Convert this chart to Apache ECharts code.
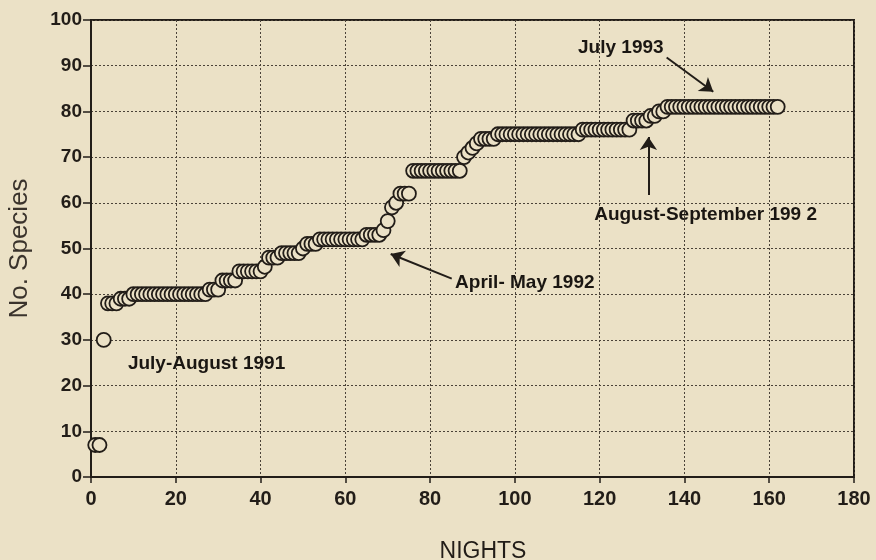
<!DOCTYPE html>
<html>
<head>
<meta charset="utf-8">
<script src="https://cdn.jsdelivr.net/npm/echarts@6/dist/echarts.min.js"></script>
<style>
  html, body { margin: 0; padding: 0; background: #ebe1c6; }
  #chart { width: 876px; height: 560px; }
</style>
</head>
<body>
<div id="chart"></div>
<script>
// cumulative no. of species, one value per night (night 1 .. 162)
const species = [
  7, 7, 30, 38, 38, 38, 39, 39, 39, 40,
  40, 40, 40, 40, 40, 40, 40, 40, 40, 40,
  40, 40, 40, 40, 40, 40, 40, 41, 41, 41,
  43, 43, 43, 43, 45, 45, 45, 45, 45, 45,
  46, 48, 48, 48, 49, 49, 49, 49, 49, 50,
  51, 51, 51, 52, 52, 52, 52, 52, 52, 52,
  52, 52, 52, 52, 53, 53, 53, 53, 54, 56,
  59, 60, 62, 62, 62, 67, 67, 67, 67, 67,
  67, 67, 67, 67, 67, 67, 67, 70, 71, 72,
  73, 74, 74, 74, 74, 75, 75, 75, 75, 75,
  75, 75, 75, 75, 75, 75, 75, 75, 75, 75,
  75, 75, 75, 75, 75, 76, 76, 76, 76, 76,
  76, 76, 76, 76, 76, 76, 76, 78, 78, 78,
  78, 79, 79, 80, 80, 81, 81, 81, 81, 81,
  81, 81, 81, 81, 81, 81, 81, 81, 81, 81,
  81, 81, 81, 81, 81, 81, 81, 81, 81, 81,
  81, 81
]

const xTicks = [0, 20, 40, 60, 80, 100, 120, 140, 160, 180]
const yTicks = [0, 10, 20, 30, 40, 50, 60, 70, 80, 90, 100]

// period notes, anchored in data units (nights, species)
const noteLabels = ['July-August 1991', 'April- May 1992', 'August-September 199 2', 'July 1993']
const noteX = [8.7, 85.9, 118.7, 114.9]
const noteY = [24.7, 42.4, 57.3, 93.9]

const arrowFrom = [[85.1, 43.4], [131.5, 61.7], [135.8, 91.8]]
const arrowTo = [[70.7, 48.8], [131.5, 74.4], [146.8, 84.3]]

const ink = '#221d18'
const paper = '#ebe1c6'
const font = '"Liberation Sans", Arial, sans-serif'

const chart = echarts.init(document.getElementById('chart'))

chart.setOption({
  backgroundColor: paper,
  animation: false,
  grid: {
    left: 91, right: 22, top: 20, bottom: 83,
    outerBoundsMode: 'none',
    containLabel: false,
    show: true, borderColor: ink, borderWidth: 2
  },
  xAxis: {
    type: 'value',
    min: xTicks[0], max: xTicks[xTicks.length - 1], interval: 20,
    name: 'NIGHTS',
    nameLocation: 'middle',
    nameGap: 63,
    nameTextStyle: { fontFamily: font, fontSize: 23, color: ink, padding: [0, 0, 0, 21] },
    axisLine: { lineStyle: { color: ink, width: 2 } },
    axisTick: { length: 6, lineStyle: { color: ink, width: 1.5 } },
    axisLabel: { margin: 12, fontFamily: font, fontSize: 20, fontWeight: 'bold', color: ink },
    splitLine: { lineStyle: { color: '#4a4238', type: [2, 2], width: 1 } }
  },
  yAxis: {
    type: 'value',
    min: yTicks[0], max: yTicks[yTicks.length - 1], interval: 10,
    name: 'No. Species',
    nameLocation: 'middle',
    nameGap: 58,
    nameTextStyle: { fontFamily: font, fontSize: 26, color: '#3a332c' },
    axisLine: { lineStyle: { color: ink, width: 2 } },
    axisTick: { length: 8, lineStyle: { color: ink, width: 1.5 } },
    axisLabel: { margin: 9, fontFamily: font, fontSize: 19, fontWeight: 'bold', color: ink },
    splitLine: { lineStyle: { color: '#4a4238', type: [2, 2], width: 1 } }
  },
  series: [
    {
      type: 'scatter',
      data: species.map((v, i) => [i + 1, v]),
      symbol: 'circle',
      symbolSize: 14,
      itemStyle: { color: paper, borderColor: ink, borderWidth: 1.8, opacity: 1 },
      z: 3
    },
    {
      type: 'lines',
      coordinateSystem: 'cartesian2d',
      data: arrowFrom.map((p, i) => ({ coords: [p, arrowTo[i]] })),
      symbol: ['none', 'arrow'],
      symbolSize: 13,
      lineStyle: { color: ink, width: 2, opacity: 1 },
      z: 4
    },
    {
      type: 'scatter',
      data: noteLabels.map((t, i) => [noteX[i], noteY[i], t]),
      symbolSize: 0,
      silent: true,
      itemStyle: { opacity: 1 },
      label: {
        show: true,
        position: 'right',
        distance: 0,
        formatter: p => p.data[2],
        fontFamily: font,
        fontSize: 19,
        fontWeight: 'bold',
        color: '#1a1612',
        opacity: 1
      },
      z: 5
    }
  ]
})
</script>
</body>
</html>
